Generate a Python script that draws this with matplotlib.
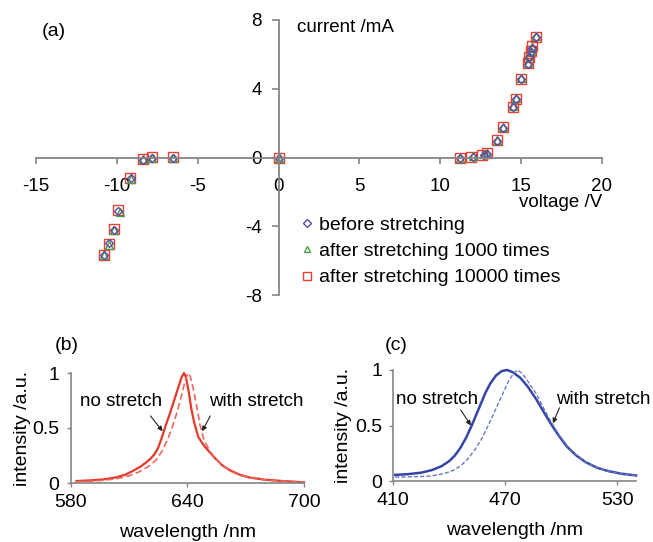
"""
I-V curves of the stretchable device before/after stretching (a)
and EL spectra with / without stretch (b, c)
"""

import matplotlib
matplotlib.use("Agg")
import matplotlib.pyplot as plt

plt.rcParams['font.family'] = ['Liberation Sans', 'DejaVu Sans']
plt.rcParams['axes.unicode_minus'] = False

# -------- DATA (a) ----------
voltage_before = [-10.8, -10.5, -10.2, -9.9, -9.1, -8.4, -7.8, -6.5, 0.0,
                  11.2, 12.0, 12.7, 12.9, 13.5, 13.9, 14.5, 14.7, 15.0,
                  15.4, 15.5, 15.6, 15.7, 15.9]
current_before = [-5.7, -5.0, -4.2, -3.1, -1.2, -0.15, 0.0, 0.0, 0.0,
                  0.0, 0.05, 0.15, 0.22, 0.95, 1.7, 2.95, 3.4, 4.55,
                  5.45, 5.85, 6.15, 6.35, 7.0]

voltage_1000 = [-10.8, -10.5, -10.2, -9.8, -9.1, -8.4, -7.8, -6.5, 0.0,
                11.2, 12.0, 12.7, 12.9, 13.5, 13.9, 14.5, 14.7, 15.0,
                15.4, 15.5, 15.6, 15.7, 15.9]
current_1000 = [-5.7, -5.1, -4.2, -3.15, -1.25, -0.1, 0.0, 0.0, 0.0,
                0.0, 0.08, 0.18, 0.27, 1.0, 1.75, 3.0, 3.45, 4.6,
                5.5, 5.9, 6.2, 6.45, 7.05]

voltage_10000 = [-10.8, -10.5, -10.2, -9.9, -9.2, -8.4, -7.8, -6.5, 0.0,
                 11.2, 11.9, 12.6, 12.9, 13.5, 13.9, 14.5, 14.7, 15.0,
                 15.4, 15.5, 15.6, 15.7, 15.9]
current_10000 = [-5.65, -5.05, -4.15, -3.05, -1.2, -0.1, 0.02, 0.02, 0.0,
                 0.0, 0.05, 0.15, 0.25, 1.0, 1.75, 2.95, 3.4, 4.55,
                 5.5, 5.85, 6.2, 6.5, 7.0]

# -------- DATA (b) red spectra ----------
wl_red_no = [583, 590, 597, 603, 608, 612, 616, 619, 621, 623, 625, 626.8,
             629, 631, 633, 635, 637, 638.3, 639.3, 640.5, 642, 643.5, 645.6,
             647, 649, 651, 654, 658, 662, 667, 672, 680, 689, 700]
int_red_no = [0.018, 0.024, 0.033, 0.05, 0.075, 0.11, 0.15, 0.19, 0.22, 0.26,
              0.32, 0.41, 0.53, 0.63, 0.74, 0.85, 0.96, 1.0, 0.96, 0.85,
              0.68, 0.55, 0.42, 0.38, 0.33, 0.29, 0.23, 0.16, 0.115, 0.075,
              0.05, 0.03, 0.018, 0.006]

wl_red_st = [583, 590, 597, 604, 610, 615, 620, 624, 627, 630.2, 632.5,
             635, 637.5, 639, 640.3, 641.5, 643, 645, 646.5, 648.2, 650,
             652, 655, 659, 663, 668, 673, 680, 689, 700]
int_red_st = [0.012, 0.016, 0.025, 0.04, 0.065, 0.1, 0.15, 0.21, 0.29, 0.41,
              0.52, 0.66, 0.83, 0.94, 1.0, 0.97, 0.86, 0.68, 0.53, 0.41,
              0.34, 0.28, 0.21, 0.145, 0.1, 0.065, 0.045, 0.028, 0.018, 0.008]

# -------- DATA (c) blue spectra ----------
wl_blue_no = [411, 418, 425, 431, 436, 440, 443, 446, 449, 452, 454.5, 457,
              459.5, 462, 465, 468, 471, 474, 478, 482, 486.8, 491, 495,
              499, 503, 508, 513, 519, 525, 532, 540]
int_blue_no = [0.055, 0.062, 0.075, 0.1, 0.135, 0.18, 0.23, 0.3, 0.39, 0.5,
               0.6, 0.7, 0.8, 0.88, 0.95, 0.99, 1.0, 0.98, 0.93, 0.85, 0.73,
               0.61, 0.5, 0.4, 0.31, 0.23, 0.17, 0.12, 0.09, 0.066, 0.05]

wl_blue_st = [411, 420, 430, 437, 442, 446, 450, 454, 457, 460, 463, 466,
              469, 472, 474.5, 476.5, 479, 482, 486.8, 491, 495, 499, 503,
              508, 513, 519, 525, 532, 540]
int_blue_st = [0.035, 0.038, 0.045, 0.065, 0.095, 0.135, 0.2, 0.29, 0.37,
               0.47, 0.58, 0.69, 0.8, 0.91, 0.97, 1.0, 0.97, 0.9, 0.78,
               0.64, 0.52, 0.41, 0.32, 0.235, 0.17, 0.12, 0.09, 0.066, 0.05]

W, H = 653, 542
AXIS_GRAY = "#858585"
RED = "#e5392c"
BLUE = "#3546a6"


def rect(x0, y0, x1, y1):
    # pixel box (top-left origin) -> figure fraction rect
    return [x0 / W, 1 - y1 / H, (x1 - x0) / W, (y1 - y0) / H]


fig = plt.figure(figsize=(W / 100, H / 100), dpi=100)

# -------- PANEL (a) ----------
ax = fig.add_axes(rect(36, 20, 602, 295))
ax.plot(voltage_10000, current_10000, ls="none", marker="s", ms=6.5, mfc="none",
        mec="#e8402f", mew=1.0, label="after stretching 10000 times")
ax.plot(voltage_1000, current_1000, ls="none", marker="^", ms=6, mfc="none",
        mec="#4d9a4a", mew=1.0, label="after stretching 1000 times")
ax.plot(voltage_before, current_before, ls="none", marker="D", ms=4.5, mfc="none",
        mec="#5a4aa6", mew=1.0, label="before stretching")
ax.set_xlim(-15, 20)
ax.set_ylim(-8, 8)
ax.spines['left'].set_position('zero')
ax.spines['bottom'].set_position('zero')
for s in ['top', 'right']:
    ax.spines[s].set_visible(False)
for s in ['left', 'bottom']:
    ax.spines[s].set_color(AXIS_GRAY)
    ax.spines[s].set_linewidth(1.3)
ax.set_xticks([-15, -10, -5, 0, 5, 10, 15, 20])
ax.set_yticks([-8, -4, 0, 4, 8])
ax.tick_params(axis='x', direction='out', length=4, width=1.2, color=AXIS_GRAY,
               labelsize=13.5, pad=11)
ax.tick_params(axis='y', direction='out', length=5, width=1.2, color=AXIS_GRAY,
               labelsize=13.5, pad=7)
ax.patch.set_visible(False)

handles, labels = ax.get_legend_handles_labels()
leg = ax.legend(handles[::-1], labels[::-1], loc='upper left',
                bbox_to_anchor=(302 / W, 1 - 216 / H), bbox_transform=fig.transFigure,
                frameon=False, fontsize=14, handlelength=0.5, handletextpad=0.35,
                labelspacing=0.45, borderpad=0, borderaxespad=0, markerscale=0.8)

fig.text(42 / W, 1 - 31 / H, "(a)", fontsize=14, va='center', ha='left')
fig.text(297 / W, 1 - 28 / H, "current /mA", fontsize=13.5, va='center', ha='left')
fig.text(519 / W, 1 - 203 / H, "voltage /V", fontsize=13.5, va='center', ha='left')

arrow = dict(arrowstyle='-|>', lw=0.8, color='#222222', mutation_scale=7,
             shrinkA=0, shrinkB=0)

# -------- PANEL (b) ----------
axb = fig.add_axes(rect(70.7, 373, 304, 483))
axb.plot(wl_red_no, int_red_no, color=RED, lw=1.6, clip_on=False)
axb.plot(wl_red_st, int_red_st, color="#ea6a5e", lw=1.2, ls=(0, (4, 2)), clip_on=False)
axb.set_xlim(580, 700)
axb.set_ylim(0, 1)
axb.set_xticks([580, 640, 700])
axb.set_yticks([0, 0.5, 1])
axb.set_yticklabels(["0", "0.5", "1"])
axb.annotate("", xy=(627.3, 0.47), xytext=(621.0, 0.61), arrowprops=arrow)
axb.annotate("", xy=(647.6, 0.47), xytext=(651.8, 0.61), arrowprops=arrow)
axb.text(605.9, 0.745, "no stretch", fontsize=13.5, ha='center', va='center')
axb.text(675.6, 0.745, "with stretch", fontsize=13.5, ha='center', va='center')
axb.set_xlabel("wavelength /nm", fontsize=14, labelpad=9)
axb.set_ylabel("intensity /a.u.", fontsize=14, labelpad=1)
fig.text(55 / W, 1 - 346 / H, "(b)", fontsize=14, va='center', ha='left')

# -------- PANEL (c) ----------
axc = fig.add_axes(rect(393.3, 370, 636, 481))
axc.plot(wl_blue_no, int_blue_no, color=BLUE, lw=1.8, clip_on=False)
axc.plot(wl_blue_st, int_blue_st, color="#6a78c4", lw=1.0, ls=(0, (3, 1.5)), clip_on=False)
axc.set_xlim(410, 540)
axc.set_ylim(0, 1)
axc.set_xticks([410, 470, 530])
axc.set_yticks([0, 0.5, 1])
axc.set_yticklabels(["0", "0.5", "1"])
axc.annotate("", xy=(451.6, 0.5), xytext=(446.1, 0.64), arrowprops=arrow)
axc.annotate("", xy=(495.5, 0.52), xytext=(499.0, 0.66), arrowprops=arrow)
axc.text(433.5, 0.73, "no stretch", fontsize=13.5, ha='center', va='center')
axc.text(522.6, 0.73, "with stretch", fontsize=13.5, ha='center', va='center')
axc.set_xlabel("wavelength /nm", fontsize=14, labelpad=9)
axc.set_ylabel("intensity /a.u.", fontsize=14, labelpad=2)
fig.text(385 / W, 1 - 346 / H, "(c)", fontsize=14, va='center', ha='left')

for a in (axb, axc):
    for s in ['top', 'right']:
        a.spines[s].set_visible(False)
    for s in ['left', 'bottom']:
        a.spines[s].set_color(AXIS_GRAY)
        a.spines[s].set_linewidth(1.2)
    a.tick_params(direction='out', length=3, width=1.0, color=AXIS_GRAY,
                  labelsize=14, pad=5)
    a.patch.set_visible(False)

plt.savefig("out.png", dpi=100)
